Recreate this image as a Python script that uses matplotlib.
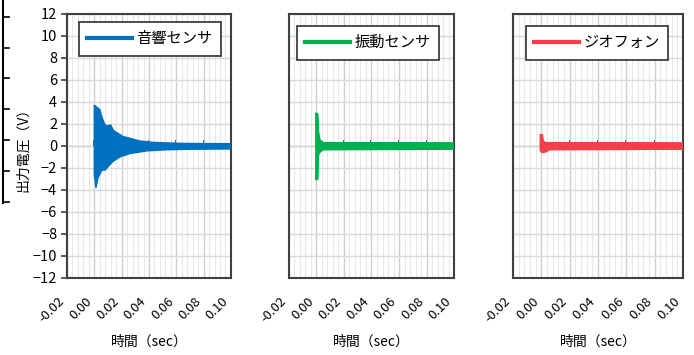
import numpy as np
import matplotlib
matplotlib.use("Agg")
import matplotlib.pyplot as plt
from matplotlib.lines import Line2D
from matplotlib.ticker import MultipleLocator

plt.rcParams["font.family"] = ["Noto Sans CJK JP", "DejaVu Sans"]

# axis ticks
x_ticks = [-0.02, 0.00, 0.02, 0.04, 0.06, 0.08, 0.10]
x_labels = ["-0.02", "0.00", "0.02", "0.04", "0.06", "0.08", "0.10"]
y_ticks = [-12, -10, -8, -6, -4, -2, 0, 2, 4, 6, 8, 10, 12]
y_labels = ["−12", "−10", "−8", "−6", "−4", "−2", "0", "2", "4", "6", "8", "10", "12"]

names = ["音響センサ", "振動センサ", "ジオフォン"]
colors = ["#0070C0", "#00B050", "#F0414B"]

# upper / lower envelope of each waveform (time [sec], voltage [V])
acoustic_t_hi = [0.000, 0.002, 0.004, 0.0056, 0.0075, 0.009, 0.012, 0.014, 0.0165,
                 0.021, 0.026, 0.033, 0.043, 0.058, 0.070, 0.100]
acoustic_hi = [3.7, 3.5, 3.3, 2.6, 2.0, 1.8, 1.9, 1.4, 1.2,
               0.85, 0.7, 0.45, 0.32, 0.25, 0.22, 0.2]
acoustic_t_lo = [0.000, 0.0012, 0.0027, 0.0056, 0.0078, 0.0129, 0.015, 0.0188,
                 0.026, 0.0385, 0.053, 0.070, 0.100]
acoustic_lo = [-2.6, -3.8, -2.9, -2.2, -2.2, -1.5, -1.3, -1.0,
               -0.7, -0.45, -0.35, -0.3, -0.28]

vibration_t_hi = [-0.0005, 0.001, 0.0015, 0.0025, 0.005, 0.100]
vibration_hi = [3.0, 2.9, 1.3, 0.55, 0.3, 0.28]
vibration_t_lo = [-0.0005, 0.001, 0.0015, 0.003, 0.005, 0.100]
vibration_lo = [-3.1, -3.0, -0.8, -0.5, -0.35, -0.3]

geophone_t_hi = [-0.0008, 0.0008, 0.0014, 0.003, 0.100]
geophone_hi = [1.05, 1.0, 0.45, 0.3, 0.28]
geophone_t_lo = [-0.0008, 0.0003, 0.003, 0.006, 0.100]
geophone_lo = [-0.4, -0.6, -0.55, -0.35, -0.3]

waves = [
    (acoustic_t_hi, acoustic_hi, acoustic_t_lo, acoustic_lo),
    (vibration_t_hi, vibration_hi, vibration_t_lo, vibration_lo),
    (geophone_t_hi, geophone_hi, geophone_t_lo, geophone_lo),
]

fig = plt.figure(figsize=(6.94, 3.55), dpi=100)

# panel placement [left, bottom, width, height]
boxes = [
    [0.0965, 0.217, 0.2363, 0.744],
    [0.4164, 0.217, 0.2378, 0.744],
    [0.7392, 0.217, 0.2450, 0.744],
]
# upper-left corner of each legend, axes fraction
legend_corners = [(0.073, 0.970), (0.048, 0.955), (0.076, 0.955)]

for i in range(3):
    ax = fig.add_axes(boxes[i])
    t_hi, hi, t_lo, lo = waves[i]
    c = colors[i]

    ax.set_xlim(-0.02, 0.10)
    ax.set_ylim(-12, 12)

    # grid
    ax.xaxis.set_minor_locator(MultipleLocator(0.004))
    ax.set_xticks(x_ticks)
    ax.set_xticklabels(x_labels, rotation=45, ha="right", va="top", fontsize=9.5)
    ax.set_yticks(y_ticks)
    ax.grid(which="major", axis="x", color="#cfcfcf", lw=1.0)
    ax.grid(which="minor", axis="x", color="#e8e8e8", lw=0.8)
    ax.grid(which="major", axis="y", color="#d9d9d9", lw=1.0)
    ax.set_axisbelow(True)
    ax.tick_params(axis="x", which="both", length=0, pad=12)

    if i == 0:
        ax.set_yticklabels(y_labels, fontsize=10.5)
        ax.tick_params(axis="y", length=4, width=1.2, color="#404040", pad=3)
        ax.set_ylabel("出力電圧（V）", fontsize=10, labelpad=2)
    else:
        ax.set_yticklabels([])
        ax.tick_params(axis="y", length=0)

    for sp in ax.spines.values():
        sp.set_color("#404040")
        sp.set_linewidth(1.5)

    # horizontal axis through 0
    zero_ax = ax.secondary_xaxis(0.5)
    zero_ax.set_xticks(x_ticks)
    zero_ax.set_xticklabels([])
    zero_ax.tick_params(length=4, width=1.2, color="#202020")
    zero_ax.spines["bottom"].set_color("#202020")
    zero_ax.spines["bottom"].set_linewidth(1.5)

    # waveform envelope
    xs = np.r_[t_hi, t_lo[::-1]]
    ys = np.r_[hi, lo[::-1]]
    ax.fill(xs, ys, color=c, lw=1.0, zorder=3)

    ax.set_xlabel("時間（sec）", fontsize=10)
    ax.xaxis.set_label_coords(0.5, -0.215)

    leg = ax.legend([Line2D([], [], color=c, lw=3)], [names[i]],
                    loc="upper left", bbox_to_anchor=legend_corners[i],
                    borderaxespad=0, fancybox=False,
                    framealpha=1, edgecolor="#303030", fontsize=11,
                    handlelength=2.95, handletextpad=0.25, borderpad=0.55)
    leg.get_frame().set_linewidth(1.2)

# frame edge of a neighbouring chart at the far left
fig.add_artist(Line2D([3 / 694, 3 / 694], [1.0, 1 - 203 / 355], color="black", lw=1.5))
for yp in [17, 48, 78, 109, 140, 171, 202]:
    fig.add_artist(Line2D([3 / 694, 9 / 694], [1 - yp / 355, 1 - yp / 355], color="black", lw=1.2))

fig.savefig("out.png", dpi=100)
